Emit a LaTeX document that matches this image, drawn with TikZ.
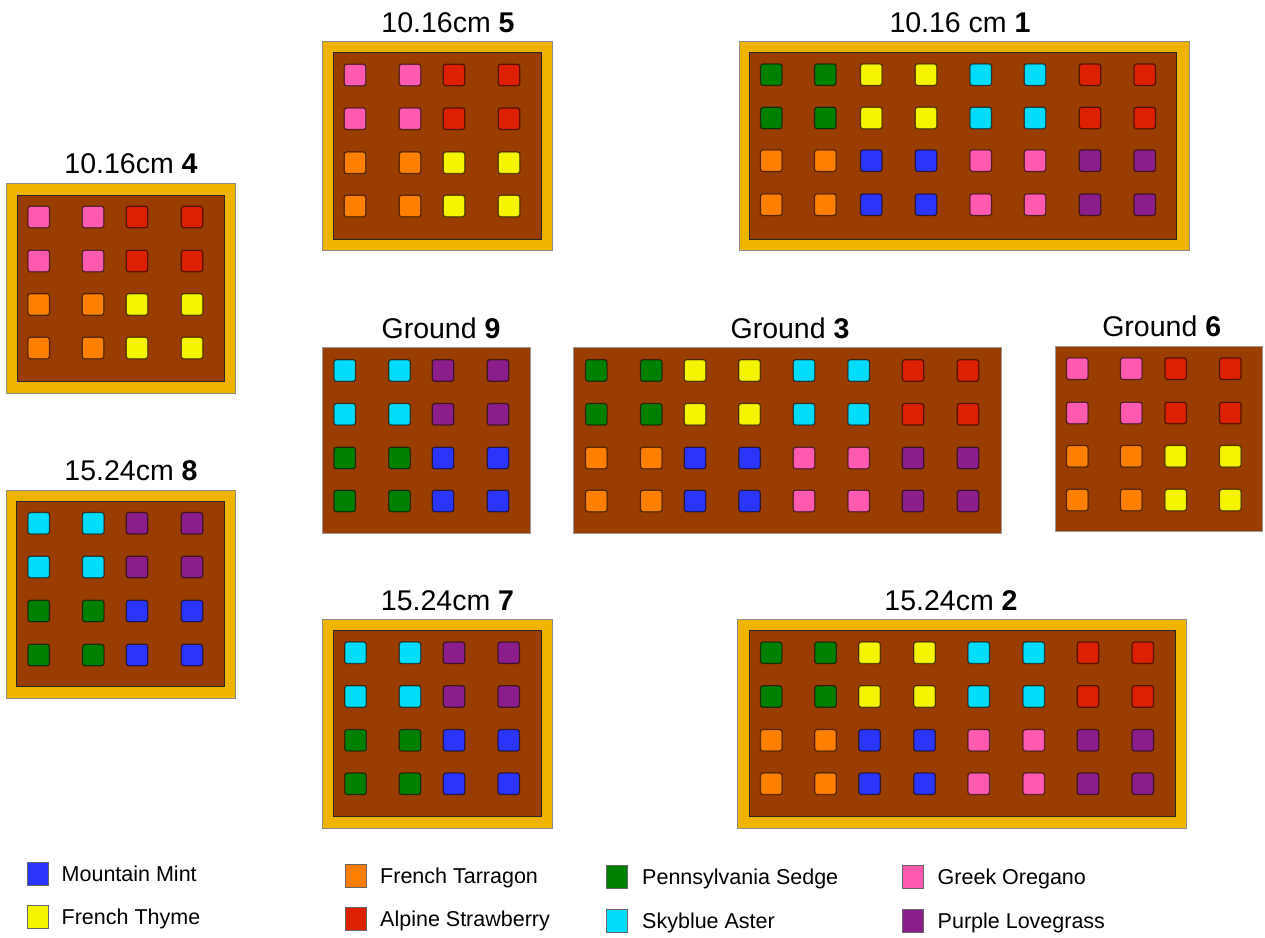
\documentclass[tikz,border=0pt]{standalone}
\usepackage{fontspec}
\setmainfont{Liberation Sans}
\definecolor{soil}{RGB}{153,61,0}
\definecolor{framegold}{RGB}{238,180,0}
\definecolor{mint}{RGB}{42,52,250}
\definecolor{thyme}{RGB}{245,245,0}
\definecolor{straw}{RGB}{220,32,0}
\definecolor{tarr}{RGB}{255,127,0}
\definecolor{sedge}{RGB}{0,128,0}
\definecolor{aster}{RGB}{0,220,250}
\definecolor{oreg}{RGB}{255,90,175}
\definecolor{love}{RGB}{140,30,140}
\newcommand\plantrow[2]{\foreach \xx/\cc in {#2}{\node[plant,fill=\cc] at (\xx,#1) {};}}
\tikzset{
  plant/.style={rectangle, rounded corners=2.5pt, minimum size=21.5pt, inner sep=0pt,
    draw=black, draw opacity=0.55, line width=1.3pt},
  outerframe/.style={fill=framegold, draw=black!45, line width=0.8pt},
  innersoil/.style={fill=soil, draw=black!85, line width=0.8pt},
  groundbed/.style={fill=soil, draw=black!40, line width=0.8pt},
  bedtitle/.style={anchor=base, inner sep=0pt, font=\fontsize{28.5}{30}\selectfont},
  legsq/.style={rectangle, minimum width=21pt, minimum height=23pt, inner sep=0pt, draw=black!60, line width=0.8pt},
  legtext/.style={anchor=base west, inner sep=0pt, font=\fontsize{21.5}{24}\selectfont}
}
\begin{document}
\begin{tikzpicture}[x=1pt,y=-1pt]
\useasboundingbox (0,0) rectangle (1265,937);
\fill[white] (0,0) rectangle (1265,937);

% ---- Bed 4
\draw[outerframe] (6,183) rectangle (235,393);
\draw[innersoil] (17,195) rectangle (224,381);
\node[bedtitle] (t4) at (131,173.7) {10.16cm \textbf{4}};
\plantrow{217}{38.7/oreg,93/oreg,137/straw,192/straw}
\plantrow{261}{38.7/oreg,93/oreg,137/straw,192/straw}
\plantrow{304.5}{38.7/tarr,93/tarr,137/thyme,192/thyme}
\plantrow{348}{38.7/tarr,93/tarr,137/thyme,192/thyme}

% ---- Bed 5
\draw[outerframe] (322.7,41.7) rectangle (552.7,250.7);
\draw[innersoil] (333,52.7) rectangle (541,239);
\node[bedtitle] (t5) at (448,32.4) {10.16cm \textbf{5}};
\plantrow{75}{355/oreg,410/oreg,454/straw,509/straw}
\plantrow{118.7}{355/oreg,410/oreg,454/straw,509/straw}
\plantrow{162.8}{355/tarr,410/tarr,454/thyme,509/thyme}
\plantrow{206}{355/tarr,410/tarr,454/thyme,509/thyme}

% ---- Bed 1
\draw[outerframe] (739,41.7) rectangle (1189,250.7);
\draw[innersoil] (749,52.7) rectangle (1176,239);
\node[bedtitle] (t1) at (960,32.4) {10.16 cm \textbf{1}};
\plantrow{74.7}{771.3/sedge,825.3/sedge,871.3/thyme,926/thyme,980.7/aster,1035/aster,1090/straw,1144.7/straw}
\plantrow{118}{771.3/sedge,825.3/sedge,871.3/thyme,926/thyme,980.7/aster,1035/aster,1090/straw,1144.7/straw}
\plantrow{160.7}{771.3/tarr,825.3/tarr,871.3/mint,926/mint,980.7/oreg,1035/oreg,1090/love,1144.7/love}
\plantrow{204.7}{771.3/tarr,825.3/tarr,871.3/mint,926/mint,980.7/oreg,1035/oreg,1090/love,1144.7/love}

% ---- Ground 9
\draw[groundbed] (322.7,347.7) rectangle (530,533.3);
\node[bedtitle] (t9) at (441,338.4) {Ground \textbf{9}};
\plantrow{370.5}{344.7/aster,399.5/aster,443/love,498/love}
\plantrow{414.3}{344.7/aster,399.5/aster,443/love,498/love}
\plantrow{458}{344.7/sedge,399.5/sedge,443/mint,498/mint}
\plantrow{501}{344.7/sedge,399.5/sedge,443/mint,498/mint}

% ---- Ground 3
\draw[groundbed] (573.3,347.7) rectangle (1001.7,533.3);
\node[bedtitle] (t3) at (790,338.4) {Ground \textbf{3}};
\plantrow{370.5}{596.3/sedge,651.3/sedge,695/thyme,749.5/thyme,804/aster,858.7/aster,913/straw,968/straw}
\plantrow{414.3}{596.3/sedge,651.3/sedge,695/thyme,749.5/thyme,804/aster,858.7/aster,913/straw,968/straw}
\plantrow{458}{596.3/tarr,651.3/tarr,695/mint,749.5/mint,804/oreg,858.7/oreg,913/love,968/love}
\plantrow{501}{596.3/tarr,651.3/tarr,695/mint,749.5/mint,804/oreg,858.7/oreg,913/love,968/love}

% ---- Ground 6
\draw[groundbed] (1055,346) rectangle (1262.7,531.7);
\node[bedtitle] (t6) at (1161.7,336.7) {Ground \textbf{6}};
\plantrow{368.7}{1077.3/oreg,1131.3/oreg,1175.7/straw,1230.3/straw}
\plantrow{413}{1077.3/oreg,1131.3/oreg,1175.7/straw,1230.3/straw}
\plantrow{456.3}{1077.3/tarr,1131.3/tarr,1175.7/thyme,1230.3/thyme}
\plantrow{500}{1077.3/tarr,1131.3/tarr,1175.7/thyme,1230.3/thyme}

% ---- Bed 8
\draw[outerframe] (6,490) rectangle (235.7,698.3);
\draw[innersoil] (16.7,501.7) rectangle (224,686.7);
\node[bedtitle] (t8) at (131,480.7) {15.24cm \textbf{8}};
\plantrow{523.3}{38.7/aster,93.2/aster,137/love,192/love}
\plantrow{567}{38.7/aster,93.2/aster,137/love,192/love}
\plantrow{611}{38.7/sedge,93.2/sedge,137/mint,192/mint}
\plantrow{655}{38.7/sedge,93.2/sedge,137/mint,192/mint}

% ---- Bed 7
\draw[outerframe] (322.7,619.3) rectangle (552.7,828.3);
\draw[innersoil] (333.3,630.7) rectangle (541.3,816.7);
\node[bedtitle] (t7) at (447.5,610) {15.24cm \textbf{7}};
\plantrow{652.8}{355.5/aster,410/aster,454/love,508.7/love}
\plantrow{696.5}{355.5/aster,410/aster,454/love,508.7/love}
\plantrow{740.3}{355.5/sedge,410/sedge,454/mint,508.7/mint}
\plantrow{783.8}{355.5/sedge,410/sedge,454/mint,508.7/mint}

% ---- Bed 2
\draw[outerframe] (737.7,619.3) rectangle (1186.7,828.3);
\draw[innersoil] (749,630.7) rectangle (1175.7,816.7);
\node[bedtitle] (t2) at (951,610) {15.24cm \textbf{2}};
\plantrow{652.8}{771.2/sedge,825.5/sedge,869.5/thyme,924.5/thyme,978.8/aster,1033.8/aster,1088/straw,1142.8/straw}
\plantrow{696.5}{771.2/sedge,825.5/sedge,869.5/thyme,924.5/thyme,978.8/aster,1033.8/aster,1088/straw,1142.8/straw}
\plantrow{740.3}{771.2/tarr,825.5/tarr,869.5/mint,924.5/mint,978.8/oreg,1033.8/oreg,1088/love,1142.8/love}
\plantrow{783.8}{771.2/tarr,825.5/tarr,869.5/mint,924.5/mint,978.8/oreg,1033.8/oreg,1088/love,1142.8/love}

% ---- Legend
\node[legsq,fill=mint] (lq1) at (37.5,874) {};
\node[legtext] (l1) at (61.5,881.7) {Mountain Mint};
\node[legsq,fill=thyme] (lq2) at (37.5,917) {};
\node[legtext] (l2) at (61.5,924.7) {French Thyme};
\node[legsq,fill=tarr] (lq3) at (355.5,876) {};
\node[legtext] (l3) at (380,883.7) {French Tarragon};
\node[legsq,fill=straw] (lq4) at (355.5,919) {};
\node[legtext] (l4) at (380,926.7) {Alpine Strawberry};
\node[legsq,fill=sedge] (lq5) at (617,877) {};
\node[legtext] (l5) at (642,884.7) {Pennsylvania Sedge};
\node[legsq,fill=aster] (lq6) at (617,920.5) {};
\node[legtext] (l6) at (642,928.2) {Skyblue Aster};
\node[legsq,fill=oreg] (lq7) at (913,877) {};
\node[legtext] (l7) at (937.5,884.7) {Greek Oregano};
\node[legsq,fill=love] (lq8) at (913,920.5) {};
\node[legtext] (l8) at (937.5,928.2) {Purple Lovegrass};
\end{tikzpicture}
\end{document}
